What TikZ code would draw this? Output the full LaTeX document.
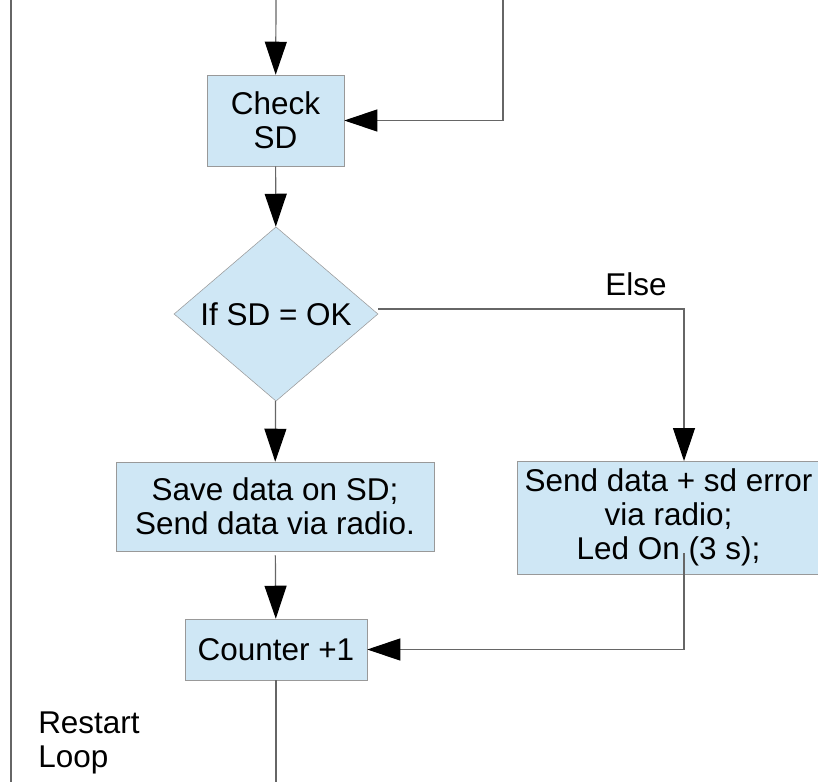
\documentclass[tikz,border=0pt]{standalone}
\usepackage{fontspec}
\setmainfont{Liberation Sans}
\usetikzlibrary{arrows.meta,shapes.geometric}
\definecolor{boxfill}{HTML}{CFE7F5}
\definecolor{boxline}{HTML}{999999}
\definecolor{wirecol}{HTML}{666666}

\begin{document}
\begin{tikzpicture}[
    x=0.75pt, y=-0.75pt,
    every node/.style={font=\fontsize{23.6}{25.5}\selectfont},
    block/.style={draw=boxline, fill=boxfill, inner sep=0pt, align=center},
    wire/.style={draw=wirecol, line width=0.9pt},
    flow/.style={wire, -{Triangle[length=24.75pt,width=16.5pt,color=black]}},
]
    \useasboundingbox (0,0) rectangle (818,782);

    \node[block, minimum width=102.75pt, minimum height=68.25pt] (check) at (275.5,120.5) {Check\\SD};
    \node[block, diamond, minimum width=153pt, minimum height=130.5pt] (ifsd) at (276,314) {If SD = OK};
    \node[block, minimum width=238.5pt, minimum height=66.75pt] (save) at (275,506.5) {Save data on SD;\\Send data via radio.};
    \node[block, minimum width=227.25pt, minimum height=84.75pt] (senderr) at (668.5,517.5) {Send data + sd error\\via radio;\\Led On (3 s);};
    \node[block, minimum width=136.5pt, minimum height=45.75pt] (counter) at (276,649.5) {Counter +1};
    \node[inner sep=0pt, anchor=base] (else) at (636,295) {Else};
    \node[inner sep=0pt, anchor=west, align=left] (restart) at (38,743) {Restart\\Loop};

    \coordinate (topin) at (276,0);
    \coordinate (loopin) at (503,0);
    \coordinate (loopout) at (276,782);
    \coordinate (railtop) at (11,0);
    \coordinate (railbot) at (11,782);
    \coordinate (elsein) at (684,461);
    \coordinate (ledout) at (684,553);

    \draw[flow] (topin) -- (check);
    \draw[flow] (loopin) |- (check.east);
    \draw[flow] (check) -- (ifsd);
    \draw[flow] (ifsd) -- (save);
    \draw[flow] ([yshift=3.75pt]ifsd.east) -| (elsein);
    \draw[flow, shorten <=3pt] (save) -- (counter);
    \draw[flow] (ledout) |- (counter.east);
    \draw[wire] (counter) -- (loopout);
    \draw[wire] (railtop) -- (railbot);
\end{tikzpicture}
\end{document}
